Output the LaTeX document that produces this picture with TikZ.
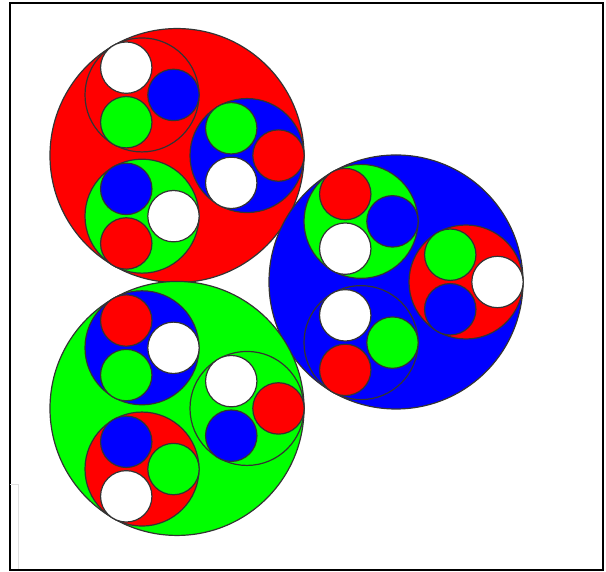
\documentclass[tikz,border=0pt]{standalone}
\usepackage{tikz}

\begin{document}
\begin{tikzpicture}[
    x=1pt, y=1pt,
    disc/.style={draw=black!80, line width=1.2pt},
    frame/.style={draw=black, line width=2pt},
    faint/.style={draw=black!12, line width=1pt}
  ]
    \useasboundingbox (0,0) rectangle (606,572);
    \draw[frame] (9.5,2) rectangle (603,568.5);
    \draw[faint] (9.5,87) -- (18,87) -- (18,3);

    \coordinate (C) at (250,290);

    % big circles
    \draw[disc, fill=red] (C) ++(120:146) coordinate (R) circle (127);
    \draw[disc, fill=blue] (C) ++(0:146) coordinate (B) circle (127);
    \draw[disc, fill=green] (C) ++(240:146) coordinate (G) circle (127);

    % middle circles
    \draw[disc, fill=red] (R) ++(120:70) coordinate (RR) circle (57);
    \draw[disc, fill=blue] (R) ++(0:70) coordinate (RB) circle (57);
    \draw[disc, fill=green] (R) ++(240:70) coordinate (RG) circle (57);

    \draw[disc, fill=green] (B) ++(120:70) coordinate (BG) circle (57);
    \draw[disc, fill=red] (B) ++(0:70) coordinate (BR) circle (57);
    \draw[disc, fill=blue] (B) ++(240:70) coordinate (BB) circle (57);

    \draw[disc, fill=blue] (G) ++(120:70) coordinate (GB) circle (57);
    \draw[disc, fill=green] (G) ++(0:70) coordinate (GG) circle (57);
    \draw[disc, fill=red] (G) ++(240:70) coordinate (GR) circle (57);

    % small circles
    \foreach \ang/\col in {0/blue, 120/white, 240/green}
      \draw[disc, fill=\col] (RR) ++(\ang:31.5) circle (25.7);
    \foreach \ang/\col in {0/red, 120/green, 240/white}
      \draw[disc, fill=\col] (RB) ++(\ang:31.5) circle (25.7);
    \foreach \ang/\col in {0/white, 120/blue, 240/red}
      \draw[disc, fill=\col] (RG) ++(\ang:31.5) circle (25.7);

    \foreach \ang/\col in {0/blue, 120/red, 240/white}
      \draw[disc, fill=\col] (BG) ++(\ang:31.5) circle (25.7);
    \foreach \ang/\col in {0/white, 120/green, 240/blue}
      \draw[disc, fill=\col] (BR) ++(\ang:31.5) circle (25.7);
    \foreach \ang/\col in {0/green, 120/white, 240/red}
      \draw[disc, fill=\col] (BB) ++(\ang:31.5) circle (25.7);

    \foreach \ang/\col in {0/white, 120/red, 240/green}
      \draw[disc, fill=\col] (GB) ++(\ang:31.5) circle (25.7);
    \foreach \ang/\col in {0/red, 120/white, 240/blue}
      \draw[disc, fill=\col] (GG) ++(\ang:31.5) circle (25.7);
    \foreach \ang/\col in {0/green, 120/blue, 240/white}
      \draw[disc, fill=\col] (GR) ++(\ang:31.5) circle (25.7);
  \end{tikzpicture}
\end{document}
